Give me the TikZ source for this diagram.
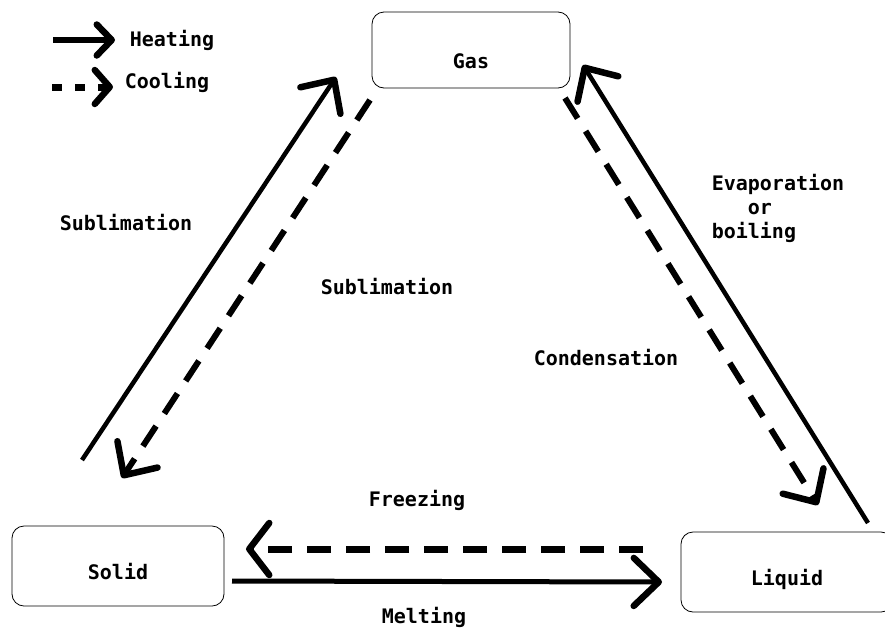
\documentclass[tikz,border=0pt]{standalone}
\usepackage{fontspec}
\setmonofont{DejaVu Sans Mono}
\usetikzlibrary{arrows.meta}

\begin{document}
\begin{tikzpicture}[x=1pt, y=-1pt,
  font=\ttfamily\bfseries\fontsize{20}{24}\selectfont,
  statebox/.style={rectangle, rounded corners=12pt, draw=black, line width=0.8pt, text height=26pt, text depth=0pt},
  heat/.style={line width=4.5pt, -{Straight Barb[length=25pt, width=48pt, line width=6.5pt, round]}},
  cool/.style={heat, line width=6pt, dash pattern=on 24pt off 15pt}]
        \useasboundingbox (0,0) rectangle (885,627);

        % Legend
        \coordinate (heatL-a) at (53,40);
        \coordinate (heatL-b) at (115,40);
        \coordinate (coolL-a) at (52,87);
        \coordinate (coolL-b) at (113,87);
        \node (heatlbl) at (172,40) {Heating};
        \node (coollbl) at (167,82) {Cooling};
        \draw[line width=6pt, -{Straight Barb[length=15pt, width=31pt, line width=6.5pt, round]}] (heatL-a) -- (heatL-b);
        \draw[line width=7pt, dash pattern=on 10pt off 13pt, -{Straight Barb[length=15pt, width=34pt, line width=6.5pt, round]}] (coolL-a) -- (coolL-b);

        % States
        \node[statebox, minimum width=198pt, minimum height=76pt, text height=36pt] (gas) at (471,50) {Gas};
        \node[statebox, minimum width=212pt, minimum height=80pt] (solid) at (118,566) {Solid};
        \node[statebox, minimum width=212pt, minimum height=80pt] (liquid) at (787,572) {Liquid};

        % Arrow ends
        \coordinate (subH-a) at (82,460);
        \coordinate (subH-b) at (336,77);
        \coordinate (subC-a) at (370,100);
        \coordinate (subC-b) at (122,478);
        \coordinate (cond-a) at (565,98);
        \coordinate (cond-b) at (818,505);
        \coordinate (evap-a) at (868,523);
        \coordinate (evap-b) at (583,65);
        \coordinate (frz-a) at (643,549);
        \coordinate (frz-b) at (246,549);
        \coordinate (melt-a) at (232,581);
        \coordinate (melt-b) at (662,582);

        % Transitions
        \draw[heat] (subH-a) -- (subH-b);
        \draw[cool] (subC-a) -- (subC-b);
        \draw[cool] (cond-a) -- (cond-b);
        \draw[heat] (evap-a) -- (evap-b);
        \draw[cool, line width=7pt, -{Straight Barb[length=20pt, width=52pt, line width=6.5pt, round]}] (frz-a) -- (frz-b);
        \draw[heat, line width=5pt] (melt-a) -- (melt-b);

        % Labels
        \node (sublHlbl) at (126,223) {Sublimation};
        \node (sublClbl) at (387,287) {Sublimation};
        \node[align=left] (evaplbl) at (778,208) {Evaporation\\\phantom{Eva}or\\boiling};
        \node (condlbl) at (606,358) {Condensation};
        \node (frzlbl) at (417,500) {Freezing};
        \node (meltlbl) at (424,617) {Melting};
    \end{tikzpicture}
\end{document}
